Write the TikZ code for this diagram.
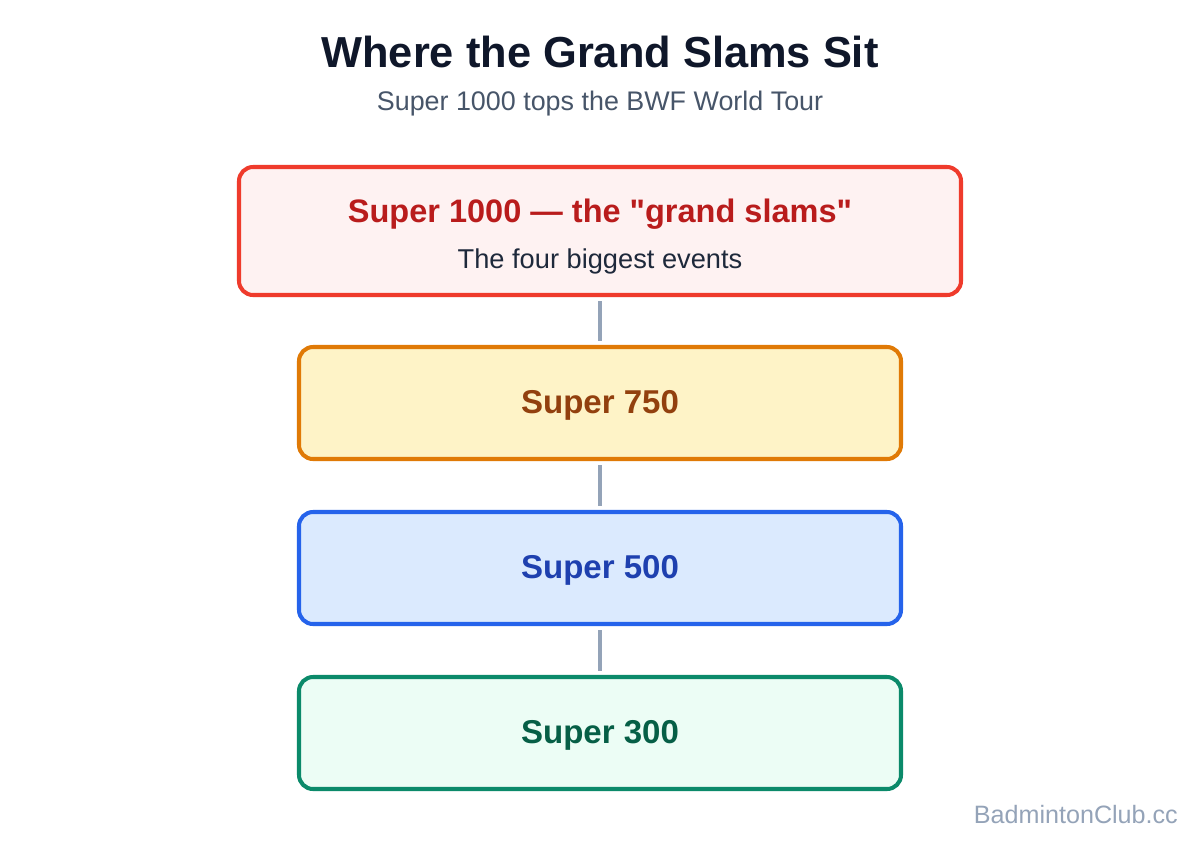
\documentclass[tikz,border=0pt]{standalone}
\usepackage{fontspec}
\setmainfont{Liberation Sans}[Ligatures=TeXOff]
\definecolor{tt}{HTML}{0F172A}
\definecolor{st}{HTML}{475569}
\definecolor{wm}{HTML}{94A3B8}
\definecolor{rb}{HTML}{EF3B2C}\definecolor{rf}{HTML}{FEF2F2}\definecolor{rt}{HTML}{B91C1C}
\definecolor{ob}{HTML}{E07A06}\definecolor{of}{HTML}{FEF3C7}\definecolor{ot}{HTML}{92400E}
\definecolor{bb}{HTML}{2563EB}\definecolor{bf}{HTML}{DBEAFE}\definecolor{bt}{HTML}{1E40AF}
\definecolor{gb}{HTML}{0B8A6A}\definecolor{gf}{HTML}{ECFDF5}\definecolor{gt}{HTML}{065F46}
\definecolor{sub}{HTML}{1E293B}
\begin{document}
\begin{tikzpicture}[x=0.02cm,y=-0.02cm,
  tier/.style={draw=#1,line width=2.3pt,rounded corners=8pt,minimum width=602*0.02cm,minimum height=112*0.02cm,font=\fontsize{18.8}{22}\selectfont\bfseries,inner sep=0pt,text depth=0pt,text height=1.15em},
  link/.style={draw=wm,line width=2.3pt,shorten <=4*0.02cm,shorten >=4*0.02cm}]
\useasboundingbox[fill=white] (0,0) rectangle (1200,840);
\node[text=tt,font=\fontsize{24.7}{28}\selectfont\bfseries] (title) at (600,52) {Where the Grand Slams Sit};
\node[text=st,font=\fontsize{15.3}{18}\selectfont] (subtitle) at (600,104) {Super 1000 tops the BWF World Tour};
\node[tier=rb,fill=rf,minimum width=722*0.02cm,minimum height=128*0.02cm] (a) at (600,231) {};
\node[text=rt,font=\fontsize{18.5}{22}\selectfont\bfseries] (at) at (600,214) {Super 1000 — the "grand slams"};
\node[text=sub,font=\fontsize{15.5}{18}\selectfont] (as) at (600,261) {The four biggest events};
\node[tier=ob,fill=of,text=ot] (b) at (600,403) {Super 750};
\node[tier=bb,fill=bf,text=bt] (c) at (600,568) {Super 500};
\node[tier=gb,fill=gf,text=gt] (d) at (600,733) {Super 300};
\draw[link] (a.south) -- (b.north);
\draw[link] (b.south) -- (c.north);
\draw[link] (c.south) -- (d.north);
\node[text=wm,font=\fontsize{14.3}{17}\selectfont,anchor=east] (wmk) at (1184,815) {BadmintonClub.cc};
\end{tikzpicture}
\end{document}
